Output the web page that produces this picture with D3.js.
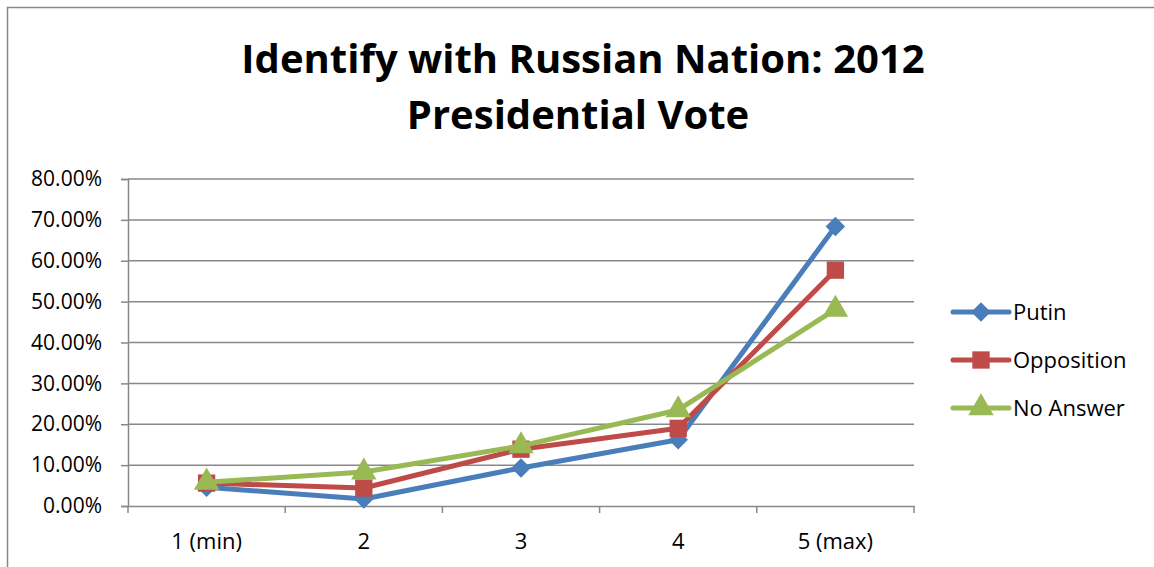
<!DOCTYPE html>
<html lang="en">
<head>
    <meta charset="UTF-8">
    <title>Identify with Russian Nation: 2012 Presidential Vote</title>
    <style>
        body {
            margin: 0;
            background-color: #ffffff;
            font-family: 'Open Sans', 'Noto Sans', sans-serif;
        }
        svg { display: block; }
        .tick text { fill: #000; }
    </style>
    <script src="https://d3js.org/d3.v7.min.js"></script>
</head>
<body>
<svg id="chart" width="1154" height="567"></svg>
<script>
    // Chart data
    const categories = ["1 (min)", "2", "3", "4", "5 (max)"];
    const seriesNames = ["Putin", "Opposition", "No Answer"];
    const putin = [0.046, 0.017, 0.093, 0.162, 0.684];
    const opposition = [0.056, 0.044, 0.139, 0.190, 0.577];
    const noAnswer = [0.058, 0.083, 0.147, 0.235, 0.481];
    const yTicks = [0, 0.1, 0.2, 0.3, 0.4, 0.5, 0.6, 0.7, 0.8];

    const colors = ["#4a7ebb", "#be4b48", "#98b954"];
    // Excel's diamond is a square turned 45 degrees
    const shapes = [d3.symbolSquare, d3.symbolSquare, d3.symbolTriangle];
    const rotations = [45, 0, 0];
    const markerSize = [190, 300, 280];
    const values = [putin, opposition, noAnswer];

    const svg = d3.select("#chart");
    const plotL = 128, plotR = 914, plotT = 179, plotB = 506;

    // outer chart border (runs off the right and bottom edges)
    svg.append("rect")
        .attr("x", 7.5).attr("y", 7.5)
        .attr("width", 1200).attr("height", 600)
        .attr("fill", "none").attr("stroke", "#888").attr("stroke-width", 1.5);

    // text from the page above, cut off by the top edge
    svg.append("text").attr("x", 30).attr("y", -10)
        .attr("font-size", 22).text("g");

    // title
    const title = svg.append("text")
        .attr("text-anchor", "middle")
        .attr("font-weight", "bold")
        .attr("font-size", 40)
        .attr("fill", "#000");
    title.append("tspan").attr("x", 583).attr("y", 73).text("Identify with Russian Nation: 2012");
    title.append("tspan").attr("x", 578).attr("y", 129).text("Presidential Vote");

    const x = d3.scaleBand().domain(categories).range([plotL, plotR]);
    const y = d3.scaleLinear().domain([0, 0.8]).range([plotB, plotT]);

    // gridlines
    svg.append("g")
        .selectAll("line")
        .data(yTicks.slice(1))
        .enter().append("line")
        .attr("x1", plotL).attr("x2", plotR)
        .attr("y1", d => y(d)).attr("y2", d => y(d))
        .attr("stroke", "#888").attr("stroke-width", 1.5);

    // y axis
    const yAxis = svg.append("g")
        .attr("transform", `translate(${plotL},0)`)
        .call(d3.axisLeft(y).tickValues(yTicks).tickFormat(d3.format(".2%")).tickSize(7).tickPadding(19));
    yAxis.selectAll("text").attr("font-size", 21).attr("font-family", "'Open Sans', sans-serif");

    // x axis
    const xAxis = svg.append("g")
        .attr("transform", `translate(0,${plotB})`)
        .call(d3.axisBottom(x).tickSize(0).tickPadding(27));
    xAxis.selectAll("text").attr("font-size", 22).attr("font-family", "'Open Sans', sans-serif");
    xAxis.selectAll(".tick-mark")
        .data(d3.range(categories.length + 1))
        .enter().append("line")
        .attr("x1", i => plotL + i * x.step()).attr("x2", i => plotL + i * x.step())
        .attr("y1", 0).attr("y2", 7)
        .attr("stroke", "#888").attr("stroke-width", 1.5);

    [yAxis, xAxis].forEach(a => {
        a.select(".domain").attr("stroke", "#888").attr("stroke-width", 1.5);
        a.selectAll(".tick line").attr("stroke", "#888").attr("stroke-width", 1.5);
    });

    const cx = c => x(c) + x.bandwidth() / 2;
    const line = d3.line().x((d, i) => cx(categories[i])).y(d => y(d));

    // series lines and markers
    values.forEach((vals, s) => {
        const g = svg.append("g");
        g.append("path")
            .attr("d", line(vals))
            .attr("fill", "none")
            .attr("stroke", colors[s])
            .attr("stroke-width", 5)
            .attr("stroke-linejoin", "round");
        g.selectAll("path.m")
            .data(vals)
            .enter().append("path")
            .attr("class", "m")
            .attr("transform", (d, i) => `translate(${cx(categories[i])},${y(d)}) rotate(${rotations[s]})`)
            .attr("d", d3.symbol().type(shapes[s]).size(markerSize[s]))
            .attr("fill", colors[s]);
    });

    // legend
    const legend = svg.append("g");
    seriesNames.forEach((name, s) => {
        const ly = 312 + s * 48;
        legend.append("line")
            .attr("x1", 953).attr("x2", 1009)
            .attr("y1", ly).attr("y2", ly)
            .attr("stroke", colors[s]).attr("stroke-width", 5).attr("stroke-linecap", "round");
        legend.append("path")
            .attr("transform", `translate(981,${ly}) rotate(${rotations[s]})`)
            .attr("d", d3.symbol().type(shapes[s]).size(markerSize[s]))
            .attr("fill", colors[s]);
        legend.append("text")
            .attr("x", 1013).attr("y", ly + 8)
            .attr("font-size", 22)
            .attr("fill", "#000")
            .text(name);
    });
</script>
</body>
</html>
